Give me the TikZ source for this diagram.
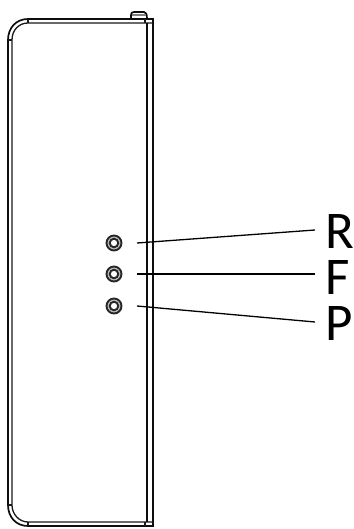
\documentclass[tikz,border=0pt]{standalone}
\usepackage{fontspec}
\setmainfont{Carlito}
\tikzset{
  body/.style={line width=1.7pt,black!95},
  thinb/.style={line width=1.3pt,black!90},
  leader/.style={line width=1.3pt,black},
  led/.style={circle,draw=black!85,line width=1.9pt,minimum size=#1,inner sep=0pt},
  letter/.style={font=\fontsize{53}{53}\selectfont,inner sep=0pt,anchor=base west,text height=34pt,text depth=0pt},
}
\begin{document}
\begin{tikzpicture}[x=1pt,y=-1pt]
\useasboundingbox (0,0) rectangle (353,529);
% housing outer
\draw[body] (153,19) -- (28,19) .. controls (16,19) and (8,28) .. (8,40) -- (8,505)
  .. controls (8,517) and (16,526) .. (28,526) -- (153,526) -- cycle;
% inner lines
\draw[thinb] (12,40) .. controls (12,30) and (19,23) .. (28,23) -- (153,23);
\draw[thinb] (12,40) -- (12,505) .. controls (12,514) and (19,522) .. (28,522) -- (153,522);
\draw[body] (147,23) -- (147,522);
\draw[thinb] (8,40) -- (12,40) (8,505) -- (12,505) (28,19) -- (28,23) (28,522) -- (28,526);
\draw[thinb] (145,19) -- (145,23) (145,522) -- (145,526);
% tab
\draw[body] (131,19) -- (131,15) .. controls (131,13) and (132,12) .. (134,12) -- (144,12)
  .. controls (146,12) and (147,14) .. (147,19);
\draw[thinb,black!50] (132,15) -- (146,15);
% LEDs
\foreach \n/\y in {r/243,f/274,p/306}{
  \node[led=15pt,fill=black!25] (led\n) at (114,\y) {};
  \node[led=8.5pt,fill=white] at (114,\y) {};
}
% letters
\node[letter] (R) at (325,248) {R};
\node[letter] (F) at (325,294) {F};
\node[letter] (P) at (325,340) {P};
\coordinate (ra) at (137,243); \coordinate (rb) at (315,230);
\coordinate (fa) at (137,274); \coordinate (fb) at (315,274);
\coordinate (pa) at (137,306); \coordinate (pb) at (315,322);
\draw[leader] (ra) -- (rb);
\draw[leader] (fa) -- (fb);
\draw[leader] (pa) -- (pb);
\end{tikzpicture}
\end{document}
